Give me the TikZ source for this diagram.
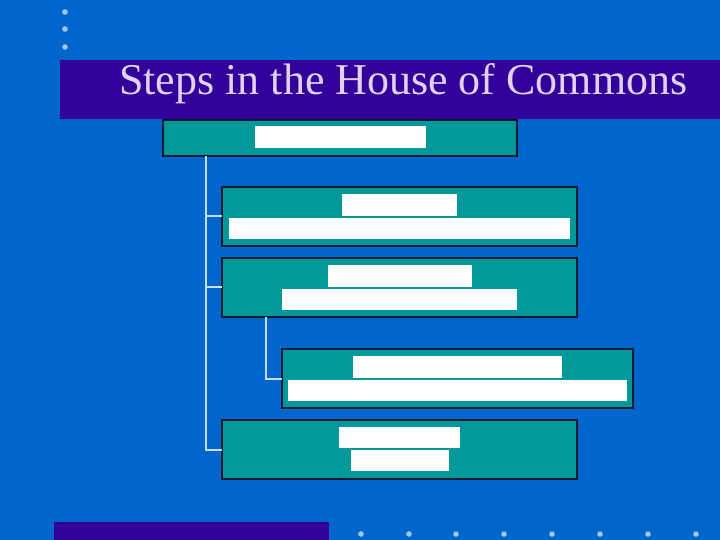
\documentclass[tikz,border=0pt]{standalone}
\usepackage{fontspec}
\setmainfont{Liberation Serif}
\definecolor{bg}{RGB}{0,102,204}
\definecolor{bar}{RGB}{51,0,153}
\definecolor{teal2}{RGB}{0,153,153}
\definecolor{edge}{RGB}{0,26,51}
\definecolor{titlec}{RGB}{222,210,240}
\definecolor{linec}{RGB}{200,220,255}
\definecolor{dotc}{RGB}{160,200,250}
\begin{document}
\begin{tikzpicture}[x=1bp,y=-1bp,
  stepbox/.style={draw=edge,line width=1.3bp,fill=teal2,inner sep=0,outer sep=0},
  label/.style={fill=white,inner sep=0,outer sep=0},
  conn/.style={draw=linec,line width=1.5bp},
  dotm/.style={fill=dotc,draw=none}]
\fill[bg] (0,0) rectangle (720,540);
\useasboundingbox (0,0) rectangle (720,540);
% top-left dots
\foreach \yy in {12,29,47} \fill[dotm] (65,\yy) circle (2.8);
% title bar
\fill[bar] (60,60) rectangle (720,119);
\node[anchor=base west,text=titlec,font=\fontsize{44bp}{46bp}\selectfont,inner sep=0] (title) at (119,94.5) {Steps in the House of Commons};
% boxes
\path[stepbox] (163,120) rectangle (517,156);
\path[stepbox] (222,187) rectangle (577,246);
\path[stepbox] (222,258) rectangle (577,317);
\path[stepbox] (282,349) rectangle (633,408);
\path[stepbox] (222,420) rectangle (577,479);
% named anchors for connectors
\coordinate (b1s) at (206,156);
\coordinate (b2w) at (222,216);
\coordinate (b3w) at (222,287);
\coordinate (b3s) at (266,317);
\coordinate (b4w) at (282,379);
\coordinate (b5w) at (222,450);
% white label boxes
\fill[label] (255,126) rectangle (426,148);
\fill[label] (342,194) rectangle (457,216);
\fill[label] (229,218) rectangle (570,239);
\fill[label] (328,265) rectangle (472,287);
\fill[label] (282,289) rectangle (517,310);
\fill[label] (353,356) rectangle (562,378);
\fill[label] (288,380) rectangle (627,401);
\fill[label] (339,427) rectangle (460,448);
\fill[label] (351,450) rectangle (449,471);
% connectors
\draw[conn] (b1s) |- (b5w);
\draw[conn] (b1s |- b2w) -- (b2w);
\draw[conn] (b1s |- b3w) -- (b3w);
\draw[conn] (b3s) |- (b4w);
% bottom bar
\fill[bar] (54,522) rectangle (329,540);
\foreach \xx in {361,409,456,504,552,600,648,696} \fill[dotm] (\xx,534) circle (2.8);
\end{tikzpicture}
\end{document}
